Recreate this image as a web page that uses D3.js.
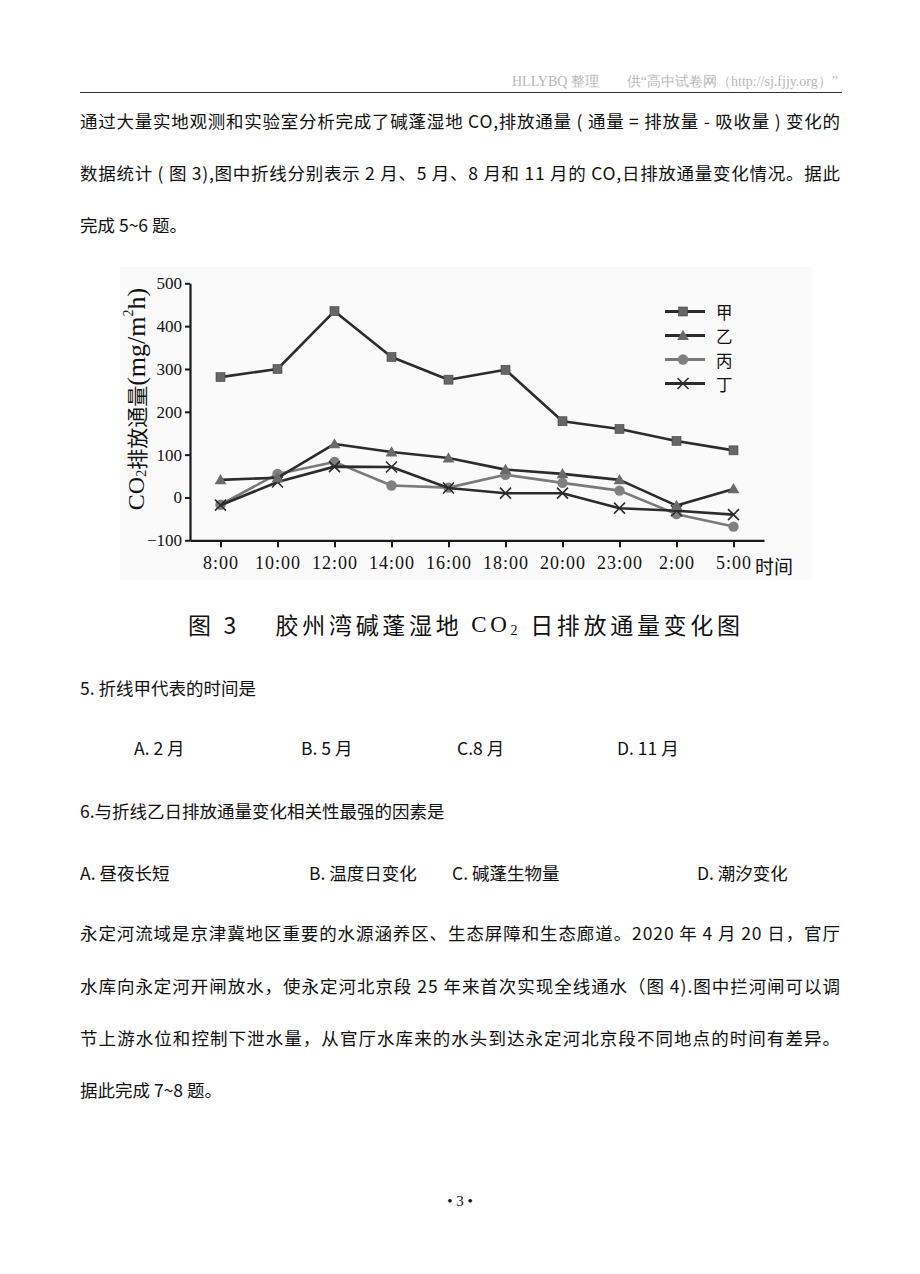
<!DOCTYPE html>
<html><head><meta charset="utf-8">
<script src="https://cdn.jsdelivr.net/npm/d3@7"></script>
<style>
html,body{margin:0;padding:0;background:#fff;}
svg{display:block;}
</style></head>
<body>
<svg id="page" width="920" height="1274"></svg>
<script>
// ---- data ----
const times = ["8:00","10:00","12:00","14:00","16:00","18:00","20:00","23:00","2:00","5:00"];
const seriesNames = ["甲","乙","丙","丁"];
const jia  = [281, 300, 435, 328, 275, 298, 178, 160, 132, 110];
const yi   = [41, 46, 125, 106, 92, 65, 55, 41, -19, 20];
const bing = [-17, 55, 83, 28, 23, 53, 34, 16, -39, -68];
const ding = [-18, 36, 72, 71, 22, 10, 10, -25, -31, -40];
const yTicks = [-100, 0, 100, 200, 300, 400, 500];

const svg = d3.select("#page");
const CJK = "'Noto Sans CJK SC','Noto Sans',sans-serif";
const SERIF = "'Liberation Serif','DejaVu Serif',serif";

// ---- header ----
svg.append("text").attr("x", 838).attr("y", 81).attr("text-anchor","end")
  .attr("dominant-baseline","central")
  .attr("font-family", SERIF).attr("font-size", 14).attr("fill","#b8b8b8")
  .text("HLLYBQ 整理　　供“高中试卷网（http://sj.fjjy.org）”");
svg.append("line").attr("x1",80).attr("x2",842).attr("y1",92.5).attr("y2",92.5)
  .attr("stroke","#333").attr("stroke-width",1.2);

// ---- body text ----
function line(x, y, txt, len){
  const t = svg.append("text").attr("x", x).attr("y", y)
    .attr("dominant-baseline","central")
    .attr("font-family", CJK).attr("font-size", 17.5).attr("fill","#111")
    .text(txt);
  if (len) t.attr("textLength", len).attr("lengthAdjust","spacing");
  return t;
}
line(80, 120, "通过大量实地观测和实验室分析完成了碱蓬湿地 CO,排放通量 ( 通量 = 排放量 - 吸收量 ) 变化的", 760);
line(80, 172, "数据统计 ( 图 3),图中折线分别表示 2 月、5 月、8 月和 11 月的 CO,日排放通量变化情况。据此", 760);
line(80, 224, "完成 5~6 题。");

line(80, 687, "5.  折线甲代表的时间是");
line(134, 747, "A. 2 月");
line(301, 747, "B. 5 月");
line(457, 747, "C.8 月");
line(617, 747, "D. 11 月");
line(80, 810, "6.与折线乙日排放通量变化相关性最强的因素是");
line(80, 872, "A.  昼夜长短");
line(309, 872, "B.  温度日变化");
line(452, 872, "C.  碱蓬生物量");
line(697, 872, "D.  潮汐变化");
line(80, 932, "永定河流域是京津冀地区重要的水源涵养区、生态屏障和生态廊道。2020 年 4 月 20 日，官厅", 760);
line(80, 985, "水库向永定河开闸放水，使永定河北京段 25 年来首次实现全线通水（图 4).图中拦河闸可以调", 760);
line(80, 1037, "节上游水位和控制下泄水量，从官厅水库来的水头到达永定河北京段不同地点的时间有差异。", 760);
line(80, 1089, "据此完成 7~8 题。");

svg.append("text").attr("x", 460).attr("y", 1201).attr("text-anchor","middle")
  .attr("dominant-baseline","central").attr("font-family", SERIF).attr("font-size", 15)
  .attr("fill","#111").text("• 3 •");

// ---- chart ----
const g = svg.append("g");
g.append("rect").attr("x",120).attr("y",267).attr("width",692).attr("height",313)
  .attr("fill","#fbfafb");

const x = d3.scalePoint().domain(times).range([190, 764]).padding(0.535);
const y = d3.scaleLinear().domain([-100, 500]).range([540.3, 283.3]);

const axisColor = "#1a1a1a";
const yAxis = g.append("g").attr("transform","translate(190,0)")
  .call(d3.axisLeft(y).tickValues(yTicks).tickSize(5).tickSizeOuter(0).tickPadding(3));
const xAxis = g.append("g").attr("transform","translate(0,540.3)")
  .call(d3.axisBottom(x).tickSize(7).tickSizeOuter(0).tickPadding(9));
[yAxis, xAxis].forEach(a=>{
  a.select(".domain").attr("stroke",axisColor).attr("stroke-width",2.2);
  a.selectAll(".tick line").attr("stroke",axisColor).attr("stroke-width",2);
});
yAxis.selectAll(".tick text").attr("font-family",SERIF).attr("font-size",17).attr("fill","#111");
xAxis.selectAll(".tick text").attr("font-family",SERIF).attr("font-size",18)
  .attr("letter-spacing",1).attr("fill","#111");

g.append("text").attr("x", 755).attr("y", 565).attr("dominant-baseline","central")
  .attr("font-family", CJK).attr("font-size", 19).attr("fill","#111").text("时间");

// y label
const yl = g.append("text").attr("transform","translate(136,399) rotate(-90)")
  .attr("text-anchor","middle").attr("dominant-baseline","central")
  .attr("font-family", SERIF).attr("font-size", 24).attr("fill","#111");
yl.append("tspan").text("CO");
yl.append("tspan").attr("font-size",14).attr("dy",5).text("2");
yl.append("tspan").attr("dy",-5).attr("font-family",CJK).attr("font-size",21).text("排放通量");
yl.append("tspan").attr("font-size",26).text("(mg/m");
yl.append("tspan").attr("font-size",14).attr("dy",-8).text("2");
yl.append("tspan").attr("font-size",26).attr("dy",8).text("h)");

const series = [
  {name:"丙", vals:bing, line:"#7a7a7a", fill:"#808080", shape:"circle"},
  {name:"丁", vals:ding, line:"#2c2c2c", fill:"#2c2c2c", shape:"x"},
  {name:"乙", vals:yi,   line:"#2c2c2c", fill:"#6a6a6a", shape:"triangle"},
  {name:"甲", vals:jia,  line:"#2c2c2c", fill:"#666666", shape:"square"}
];
const lineGen = d3.line().x((d,i)=>x(times[i])).y(d=>y(d));

function marker(sel, shape, fill, cx, cy){
  if (shape==="square") sel.append("rect").attr("x",cx-4.5).attr("y",cy-4.5).attr("width",9).attr("height",9)
     .attr("fill",fill).attr("stroke","#444").attr("stroke-width",0.6);
  else if (shape==="triangle") sel.append("path")
     .attr("d", d3.symbol(d3.symbolTriangle, 60)()).attr("transform",`translate(${cx},${cy+1})`)
     .attr("fill",fill);
  else if (shape==="circle") sel.append("circle").attr("cx",cx).attr("cy",cy).attr("r",5.2).attr("fill",fill);
  else sel.append("path").attr("d",`M${cx-5.5},${cy-5.5}L${cx+5.5},${cy+5.5}M${cx-5.5},${cy+5.5}L${cx+5.5},${cy-5.5}`)
     .attr("stroke",fill).attr("stroke-width",1.6).attr("fill","none");
}

series.forEach(s=>{
  g.append("path").datum(s.vals).attr("d", lineGen).attr("fill","none")
    .attr("stroke", s.line).attr("stroke-width", 2.6).attr("stroke-linejoin","round");
  const mg = g.append("g");
  s.vals.forEach((v,i)=> marker(mg, s.shape, s.fill, x(times[i]), y(v)));
});

// legend
const legendOrder = ["甲","乙","丙","丁"];
legendOrder.forEach((n,i)=>{
  const s = series.find(d=>d.name===n);
  const ly = 311.5 + i*24;
  const lg = g.append("g");
  lg.append("line").attr("x1",665).attr("x2",705).attr("y1",ly).attr("y2",ly)
    .attr("stroke", s.line).attr("stroke-width", 3);
  marker(lg, s.shape, s.fill, 683, ly);
  lg.append("text").attr("x",716).attr("y",ly).attr("dominant-baseline","central")
    .attr("font-family", CJK).attr("font-size", 16.5).attr("fill","#111").text(n);
});

// caption
const cap = svg.append("text").attr("x",188).attr("y",624).attr("dominant-baseline","central")
  .attr("font-family", CJK).attr("font-size", 23).attr("fill","#111")
  .attr("textLength", 552).attr("lengthAdjust","spacing");
cap.append("tspan").text("图 3　 胶州湾碱蓬湿地 ");
cap.append("tspan").attr("font-family",SERIF).text("CO");
cap.append("tspan").attr("font-family",SERIF).attr("font-size",14).attr("dy",6).text("2");
cap.append("tspan").attr("dy",-6).text(" 日排放通量变化图");
</script>
</body></html>
